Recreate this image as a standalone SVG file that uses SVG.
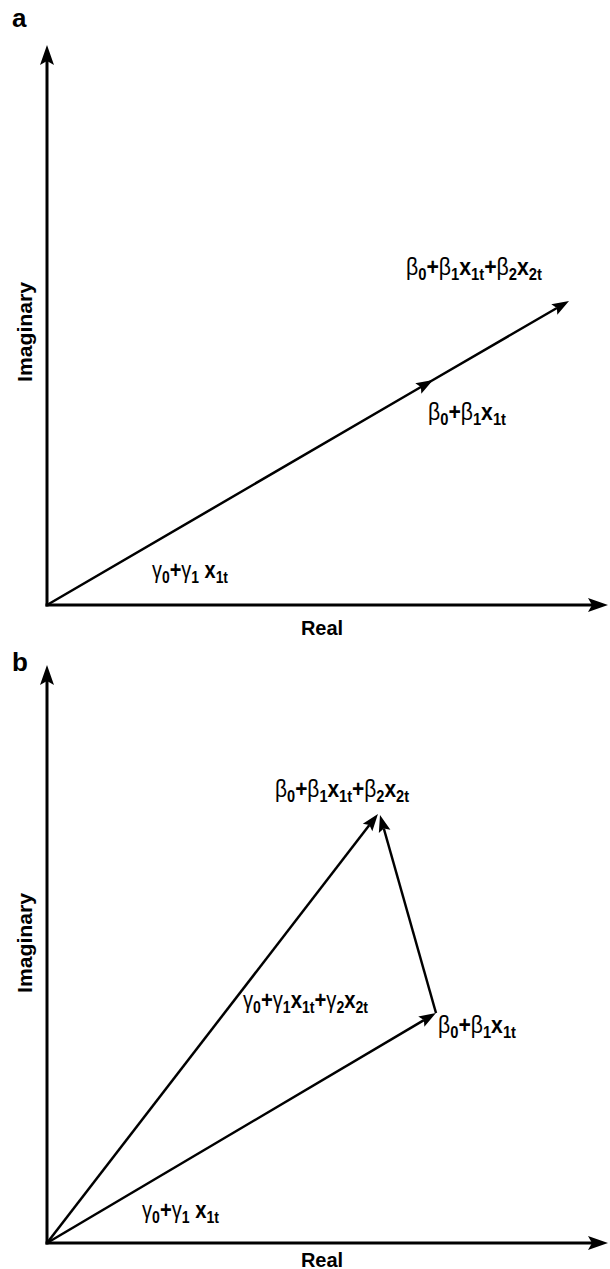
<svg xmlns="http://www.w3.org/2000/svg" width="610" height="1269" viewBox="0 0 610 1269">
<style>
.ax{stroke:#000;stroke-width:3;fill:none}
.vec{stroke:#000;stroke-width:2.5;fill:none}
.t{font-family:"Liberation Sans",Arial,sans-serif;font-weight:bold;fill:#000}
.lbl{font-size:23px}
.gk{font-weight:normal}
.sb{font-size:16px}
.axl{font-size:20px}
.pl{font-size:26px}
</style>
<defs>
<marker id="axhead" markerUnits="userSpaceOnUse" markerWidth="20" markerHeight="14" refX="4" refY="7" orient="auto" overflow="visible">
<path d="M0,0 L20,7 L0,14 L4,7 z" fill="#000"/>
</marker>
<marker id="vhead" markerUnits="userSpaceOnUse" markerWidth="17" markerHeight="12" refX="3" refY="6" orient="auto" overflow="visible">
<path d="M0,0 L17,6 L0,12 L3,6 z" fill="#000"/>
</marker>
</defs>
<rect width="610" height="1269" fill="#fff"/>

<g id="connectors">
<line class="ax" x1="47" y1="606.5" x2="47" y2="61" marker-end="url(#axhead)"/>
<line class="ax" x1="45.5" y1="605" x2="592" y2="605" marker-end="url(#axhead)"/>
<polyline class="vec" points="47,605 420.9,387 556.9,308" marker-mid="url(#vhead)" marker-end="url(#vhead)"/>
<line class="ax" x1="47" y1="1244.5" x2="47" y2="681" marker-end="url(#axhead)"/>
<line class="ax" x1="45.5" y1="1243" x2="592" y2="1243" marker-end="url(#axhead)"/>
<line class="vec" x1="47" y1="1243" x2="423.9" y2="1020.1" marker-end="url(#vhead)"/>
<line class="vec" x1="47" y1="1243" x2="369.4" y2="825.1" marker-end="url(#vhead)"/>
<line class="vec" x1="436" y1="1013" x2="383.8" y2="828.5" marker-end="url(#vhead)"/>
</g>

<g id="panel-a-label"><text class="t pl" x="12" y="27">a</text></g>
<g id="panel-b-label"><text class="t pl" x="12" y="671">b</text></g>

<g id="a-real"><text class="t axl" x="322" y="635" text-anchor="middle">Real</text></g>
<g id="a-imag"><text class="t axl" transform="translate(32,332) rotate(-90)" text-anchor="middle" textLength="100" lengthAdjust="spacingAndGlyphs">Imaginary</text></g>
<g id="b-real"><text class="t axl" x="322" y="1267" text-anchor="middle">Real</text></g>
<g id="b-imag"><text class="t axl" transform="translate(32,943) rotate(-90)" text-anchor="middle" textLength="100" lengthAdjust="spacingAndGlyphs">Imaginary</text></g>

<g id="a-beta-full">
<text class="t lbl" x="406" y="275" textLength="136" lengthAdjust="spacingAndGlyphs"><tspan class="gk">β</tspan><tspan class="sb" dy="5">0</tspan><tspan dy="-5">+</tspan><tspan class="gk">β</tspan><tspan class="sb" dy="5">1</tspan><tspan dy="-5">x</tspan><tspan class="sb" dy="5">1t</tspan><tspan dy="-5">+</tspan><tspan class="gk">β</tspan><tspan class="sb" dy="5">2</tspan><tspan dy="-5">x</tspan><tspan class="sb" dy="5">2t</tspan></text>
</g>
<g id="a-beta">
<text class="t lbl" x="428" y="420" textLength="78" lengthAdjust="spacingAndGlyphs"><tspan class="gk">β</tspan><tspan class="sb" dy="5">0</tspan><tspan dy="-5">+</tspan><tspan class="gk">β</tspan><tspan class="sb" dy="5">1</tspan><tspan dy="-5">x</tspan><tspan class="sb" dy="5">1t</tspan></text>
</g>
<g id="a-gamma">
<text class="t lbl" x="152" y="578" textLength="76" lengthAdjust="spacingAndGlyphs"><tspan class="gk">γ</tspan><tspan class="sb" dy="5">0</tspan><tspan dy="-5">+</tspan><tspan class="gk">γ</tspan><tspan class="sb" dy="5">1</tspan><tspan dy="-5"> x</tspan><tspan class="sb" dy="5">1t</tspan></text>
</g>

<g id="b-beta-full">
<text class="t lbl" x="275" y="797" textLength="134" lengthAdjust="spacingAndGlyphs"><tspan class="gk">β</tspan><tspan class="sb" dy="5">0</tspan><tspan dy="-5">+</tspan><tspan class="gk">β</tspan><tspan class="sb" dy="5">1</tspan><tspan dy="-5">x</tspan><tspan class="sb" dy="5">1t</tspan><tspan dy="-5">+</tspan><tspan class="gk">β</tspan><tspan class="sb" dy="5">2</tspan><tspan dy="-5">x</tspan><tspan class="sb" dy="5">2t</tspan></text>
</g>
<g id="b-gamma-full">
<text class="t lbl" x="243" y="1008" textLength="125" lengthAdjust="spacingAndGlyphs"><tspan class="gk">γ</tspan><tspan class="sb" dy="5">0</tspan><tspan dy="-5">+</tspan><tspan class="gk">γ</tspan><tspan class="sb" dy="5">1</tspan><tspan dy="-5">x</tspan><tspan class="sb" dy="5">1t</tspan><tspan dy="-5">+</tspan><tspan class="gk">γ</tspan><tspan class="sb" dy="5">2</tspan><tspan dy="-5">x</tspan><tspan class="sb" dy="5">2t</tspan></text>
</g>
<g id="b-beta">
<text class="t lbl" x="438" y="1033" textLength="78" lengthAdjust="spacingAndGlyphs"><tspan class="gk">β</tspan><tspan class="sb" dy="5">0</tspan><tspan dy="-5">+</tspan><tspan class="gk">β</tspan><tspan class="sb" dy="5">1</tspan><tspan dy="-5">x</tspan><tspan class="sb" dy="5">1t</tspan></text>
</g>
<g id="b-gamma">
<text class="t lbl" x="142" y="1218" textLength="77" lengthAdjust="spacingAndGlyphs"><tspan class="gk">γ</tspan><tspan class="sb" dy="5">0</tspan><tspan dy="-5">+</tspan><tspan class="gk">γ</tspan><tspan class="sb" dy="5">1</tspan><tspan dy="-5"> x</tspan><tspan class="sb" dy="5">1t</tspan></text>
</g>
</svg>
